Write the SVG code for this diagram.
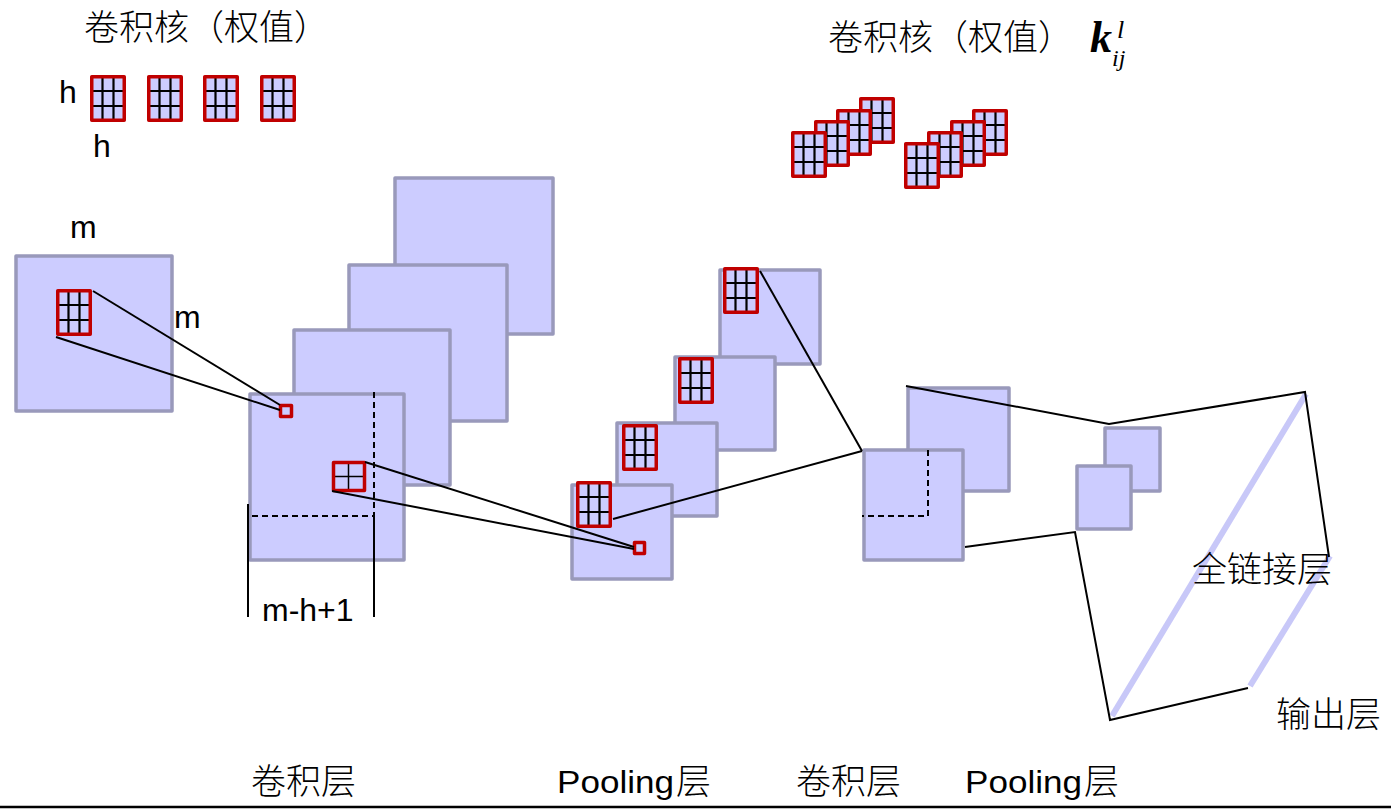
<svg xmlns="http://www.w3.org/2000/svg" width="1391" height="810" viewBox="0 0 1391 810">
<style>
.sq{fill:#ccccff;stroke:#9999bb;stroke-width:3.5;stroke-linejoin:round}
.ln{fill:none;stroke:#000;stroke-width:2}
.dash{fill:none;stroke:#000;stroke-width:2;stroke-dasharray:6 4}
.blue{fill:none;stroke:#c8c8f8;stroke-width:6}
.red{fill:none;stroke:#c00000;stroke-width:3.5;stroke-linejoin:round}
.cn{font-family:"Noto Sans CJK SC","Noto Sans",sans-serif;font-size:35px;fill:#000;font-weight:300}
.lat{font-family:"Liberation Sans",Arial,sans-serif;font-size:32px;fill:#000}
</style>
<defs>
<g id="k3">
<rect x="1.75" y="1.75" width="32.5" height="43.5" fill="#ccccff"/>
<path d="M12.5,3V44M23.5,3V44M3,16H33M3,31H33" stroke="#000" stroke-width="2.2"/>
<rect x="1.75" y="1.75" width="32.5" height="43.5" class="red"/>
</g>
</defs>
<rect width="1391" height="810" fill="#fff"/>

<g id="title-left">
<text class="cn" x="84" y="40">卷积核（权值）</text>
</g>
<g id="title-right">
<text class="cn" x="828" y="50">卷积核（权值）</text>
<text x="1090" y="52" font-family="Liberation Serif,serif" font-style="italic" font-weight="bold" font-size="44">k</text>
<text x="1117" y="38" font-family="Liberation Serif,serif" font-style="italic" font-size="26">l</text>
<text x="1112" y="66" font-family="Liberation Serif,serif" font-style="italic" font-size="24">ij</text>
</g>

<g id="kernels-left">
<use href="#k3" x="90" y="75"/>
<use href="#k3" x="147" y="75"/>
<use href="#k3" x="203" y="75"/>
<use href="#k3" x="260" y="75"/>
<text class="lat" x="59" y="103">h</text>
<text class="lat" x="93" y="157">h</text>
</g>

<g id="kernels-right">
<use href="#k3" x="859" y="97"/>
<use href="#k3" x="836" y="109"/>
<use href="#k3" x="814" y="120"/>
<use href="#k3" x="791" y="131"/>
<use href="#k3" x="972" y="109"/>
<use href="#k3" x="950" y="120"/>
<use href="#k3" x="927" y="131"/>
<use href="#k3" x="904" y="142"/>
</g>

<g id="input">
<rect class="sq" x="16" y="256" width="156" height="155"/>
<use href="#k3" x="56" y="289"/>
<text class="lat" x="70" y="238">m</text>
<text class="lat" x="174" y="328">m</text>
</g>

<g id="conv1">
<rect class="sq" x="395" y="178" width="158" height="156"/>
<rect class="sq" x="349" y="265" width="158" height="156"/>
<rect class="sq" x="294" y="330" width="156" height="155"/>
<rect class="sq" x="250" y="394" width="154" height="166"/>
<rect class="red" x="280.5" y="405.5" width="11" height="11"/>
<rect x="334" y="463" width="30" height="27" fill="#ccccff"/>
<path d="M348.5,463V490M334,476.5H364" stroke="#000" stroke-width="1.5"/>
<rect class="red" x="333.5" y="462.5" width="31" height="28"/>
<path class="dash" d="M374,392V516H248"/>
<path class="ln" d="M248,504V617M374,516V617"/>
<text class="lat" x="262" y="621">m-h+1</text>
</g>

<g id="pool1">
<rect class="sq" x="720" y="270" width="100" height="94"/>
<use href="#k3" x="723" y="267"/>
<rect class="sq" x="675" y="357" width="100" height="93"/>
<use href="#k3" x="678" y="357"/>
<rect class="sq" x="617" y="423" width="100" height="93"/>
<use href="#k3" x="622" y="424"/>
<rect class="sq" x="572" y="485" width="100" height="94"/>
<use href="#k3" x="576" y="481"/>
<rect class="red" x="634.5" y="542.5" width="10" height="11"/>
</g>

<g id="conv2">
<rect class="sq" x="908" y="388" width="101" height="103"/>
<rect class="sq" x="864" y="450" width="99" height="110"/>
<path class="dash" d="M928,450V516H862"/>
</g>

<g id="pool2">
<rect class="sq" x="1105" y="428" width="55" height="63"/>
<rect class="sq" x="1077" y="466" width="54" height="63"/>
</g>

<g id="fc">
<path class="blue" d="M1112,716L1306,394"/>
<path class="blue" d="M1250,686L1330,556"/>
<text class="cn" x="1192" y="582">全链接层</text>
<text class="cn" x="1276" y="727">输出层</text>
</g>

<g id="connectors">
<path class="ln" d="M93,291L280,405"/>
<path class="ln" d="M56,337L280,410"/>
<path class="ln" d="M365,462L634,547"/>
<path class="ln" d="M332,491L634,549"/>
<path class="ln" d="M613,519L862,451"/>
<path class="ln" d="M760,271L862,451"/>
<path class="ln" d="M906,386L1109,424L1305,392L1329,557"/>
<path class="ln" d="M965,547L1075,532L1110,720L1248,688"/>
</g>

<g id="labels-bottom">
<text class="cn" x="251" y="794" font-size="36">卷积层</text>
<text class="lat" x="557" y="793" font-size="35" textLength="117" lengthAdjust="spacingAndGlyphs">Pooling</text>
<text class="cn" x="676" y="794" font-size="36">层</text>
<text class="cn" x="796" y="794" font-size="36">卷积层</text>
<text class="lat" x="965" y="793" font-size="35" textLength="117" lengthAdjust="spacingAndGlyphs">Pooling</text>
<text class="cn" x="1084" y="794" font-size="36">层</text>
</g>
<path d="M0,807H1391" stroke="#000" stroke-width="2.5"/>
</svg>
